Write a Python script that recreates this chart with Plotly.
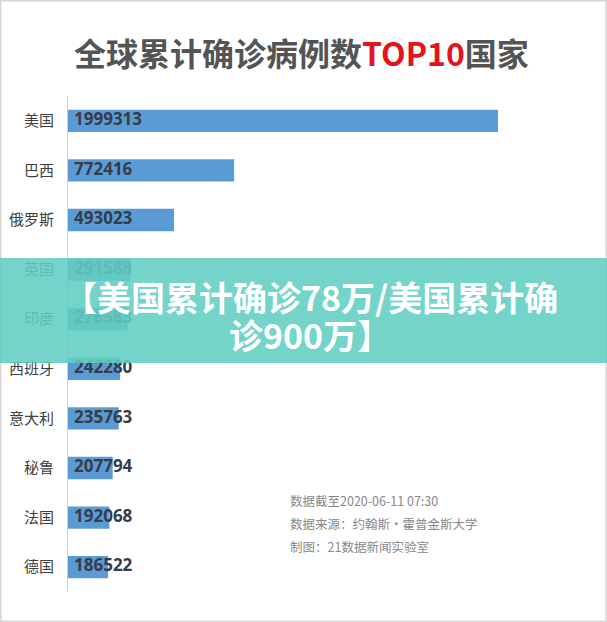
import plotly.graph_objects as go

countries = ["美国", "巴西", "俄罗斯", "英国", "印度", "西班牙", "意大利", "秘鲁", "法国", "德国"]
cases = [1999313, 772416, 493023, 291588, 276583, 242280, 235763, 207794, 192068, 186522]
title_left = "全球累计确诊病例数"
title_mid = "TOP10"
title_right = "国家"
banner_lines = ["【美国累计确诊78万/美国累计确", "诊900万】"]
notes = ["数据截至2020-06-11 07:30", "数据来源：约翰斯·霍普金斯大学", "制图：21数据新闻实验室"]

W, H = 607, 622
L, R, T, B = 68, 17, 96, 30
pw, ph = W - L - R, H - T - B
XMAX = 2427000
label_pad = 6 / pw * XMAX  # 6 px padding for value labels

def px(x):
    return (x - L) / pw

def py(y):
    return (H - B - y) / ph

fig = go.Figure()
fig.add_trace(go.Bar(
    y=countries, x=cases, orientation="h",
    marker=dict(color="#5b9bd5", line=dict(width=0)),
    width=0.45, hoverinfo="skip",
))
fig.add_trace(go.Scatter(
    y=countries, x=[label_pad] * len(cases), mode="text",
    text=[str(v) for v in cases], textposition="middle right",
    textfont=dict(family="Open Sans", size=17, color="#363c48", weight="bold"),
    hoverinfo="skip",
))

annotations = [
    dict(x=px(301), y=py(52), xref="paper", yref="paper", showarrow=False,
         xanchor="center", yanchor="middle",
         text=(f"<b><span style='color:#545454'>{title_left}</span>"
               f"<span style='color:#e4141c'>{title_mid}</span>"
               f"<span style='color:#545454'>{title_right}</span></b>"),
         font=dict(family="Noto Sans CJK SC", size=32)),
]
for line, yy in zip(banner_lines, [296, 334]):
    annotations.append(dict(x=px(310), y=py(yy), xref="paper", yref="paper", showarrow=False,
                            xanchor="center", yanchor="middle",
                            text="<b>" + line + "</b>",
                            font=dict(family="Noto Sans CJK SC", size=34, color="white")))
for n, yy in zip(notes, [500, 523, 546]):
    annotations.append(dict(x=px(288), y=py(yy), xref="paper", yref="paper",
                            showarrow=False, xanchor="left", yanchor="middle",
                            text=n, font=dict(family="Noto Sans CJK SC", size=12.5, color="#888888")))

shapes = [
    dict(type="rect", xref="paper", yref="paper",
         x0=px(0), x1=px(W), y0=py(363), y1=py(258),
         fillcolor="rgba(98,206,194,0.88)", line=dict(width=0), layer="above"),
    dict(type="rect", xref="paper", yref="paper",
         x0=px(0.5), x1=px(W - 0.5), y0=py(H - 0.5), y1=py(0.5),
         fillcolor="rgba(0,0,0,0)", line=dict(color="#d6d6d6", width=2), layer="below"),
]

fig.update_layout(
    width=W, height=H,
    margin=dict(l=L, r=R, t=T, b=B, pad=0, autoexpand=False),
    paper_bgcolor="white", plot_bgcolor="white",
    showlegend=False,
    bargap=0.55,
    xaxis=dict(range=[0, XMAX], visible=False, fixedrange=True, automargin=False),
    yaxis=dict(autorange="reversed", showline=True, linecolor="#d0d0d0", linewidth=1,
               showgrid=False, ticks="", ticklabelstandoff=10, automargin=False,
               tickfont=dict(family="Noto Sans CJK SC", size=15, color="#404040")),
    annotations=annotations,
    shapes=shapes,
)
fig.write_html("out.html")
